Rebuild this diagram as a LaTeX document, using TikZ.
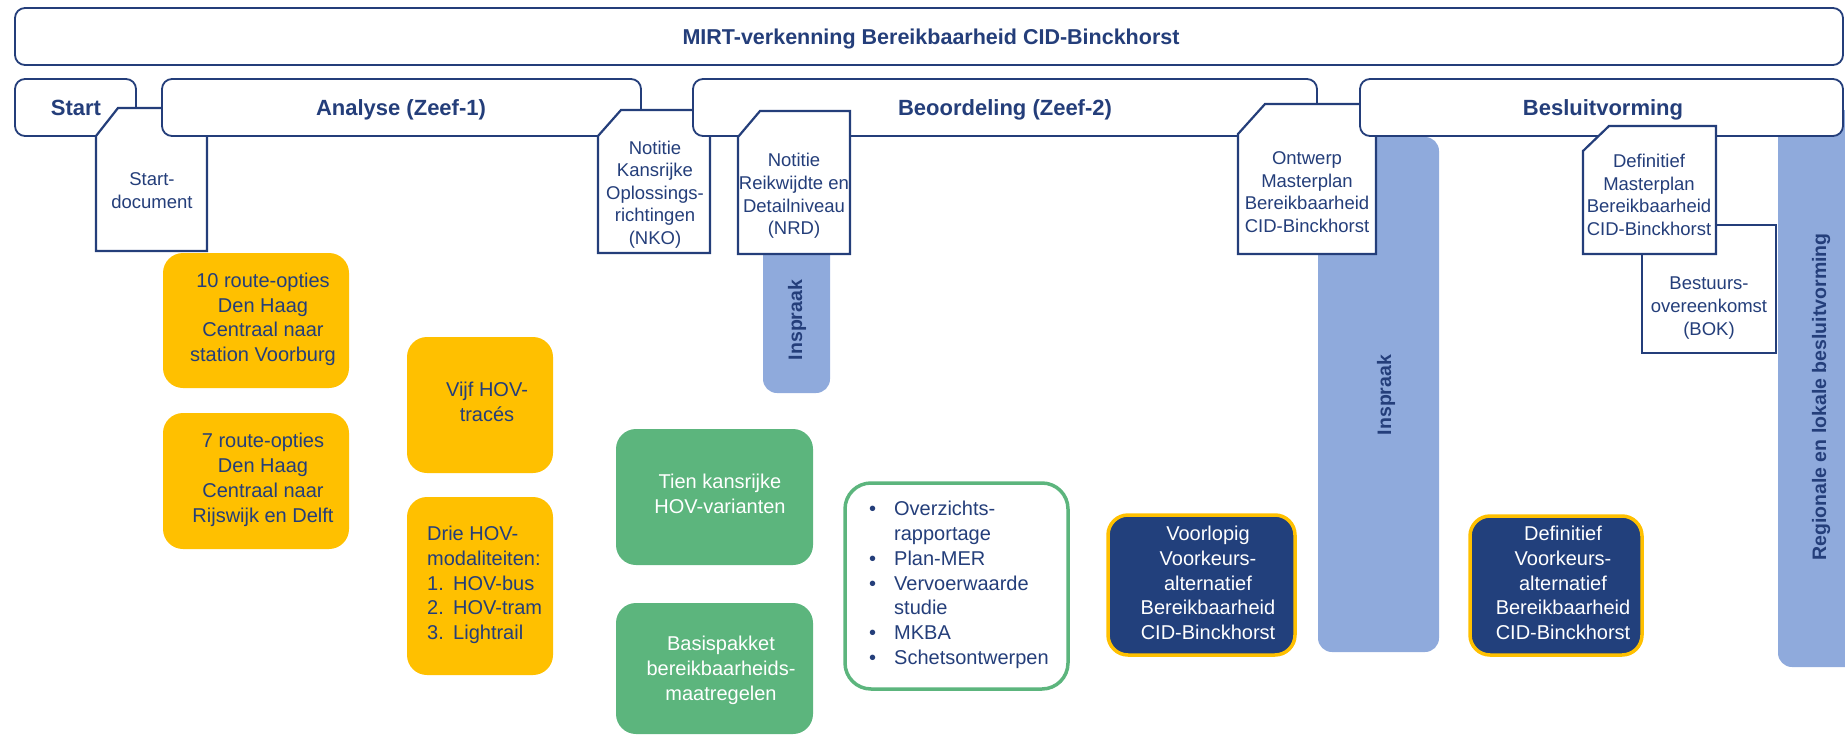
\documentclass[tikz,border=0pt]{standalone}
\usepackage{fontspec}
\setmainfont{Liberation Sans}
\definecolor{dblue}{RGB}{36,62,122}
\definecolor{navy}{RGB}{34,64,124}
\definecolor{ylw}{RGB}{255,192,0}
\definecolor{lblue}{RGB}{143,170,220}
\definecolor{grn}{RGB}{92,181,125}
\begin{document}
\begin{tikzpicture}[x=1pt,y=-1pt,
  bar/.style={draw=dblue, line width=1.8pt, fill=white, rounded corners=10pt},
  doc/.style={draw=dblue, line width=2.2pt, fill=white, line join=miter},
  band/.style={fill=lblue, rounded corners=14pt},
  ybox/.style={fill=ylw, rounded corners=20pt},
  gbox/.style={fill=grn, rounded corners=20pt},
  nbox/.style={draw=ylw, line width=3.5pt, fill=navy, rounded corners=20pt},
  obox/.style={draw=grn, line width=3.5pt, fill=white, rounded corners=26pt},
  head/.style={inner sep=0pt, anchor=base, text=dblue, font=\bfseries\fontsize{22}{26}\selectfont},
  t/.style={inner sep=0pt, text=dblue, align=center, execute at begin node=\strut, execute at end node=\strut},
  doctext/.style={t, font=\fontsize{18.5}{22.6}\selectfont},
  boxtext/.style={t, font=\fontsize{20}{24.7}\selectfont},
  vert/.style={inner sep=0pt, rotate=90, text=dblue, font=\bfseries\fontsize{19.5}{24}\selectfont}
]
\useasboundingbox (0,0) rectangle (1845,736);
\clip (0,0) rectangle (1845,736);

% title bar
\path[bar] (15,8) rectangle (1843,65);
\node[head, font=\bfseries\fontsize{21.5}{26}\selectfont] (title) at (931,44) {MIRT-verkenning Bereikbaarheid CID-Binckhorst};

% phases and documents (order gives the overlaps)
\path[bar] (15,79) rectangle (136,136);
\path[doc] (96,136) -- (118,108) -- (207,108) -- (207,251) -- (96,251) -- cycle;
\path[bar] (162,79) rectangle (641,136);
\path[doc] (598,136) -- (621,110) -- (710,110) -- (710,253) -- (598,253) -- cycle;
\path[bar] (693,79) rectangle (1317,136);
\path[band] (763,230) rectangle (830,393);
\path[doc] (738,137) -- (760,111) -- (850,111) -- (850,254) -- (738,254) -- cycle;
\path[band] (1318,137) rectangle (1439,652);
\path[doc] (1238,134) -- (1265,104) -- (1376,104) -- (1376,254) -- (1238,254) -- cycle;
\path[band] (1778,110) rectangle (1870,667);
\path[bar] (1360,79) rectangle (1843,136);
\path[doc] (1642,225) rectangle (1776,353);
\path[doc] (1583,151) -- (1609,126) -- (1716,126) -- (1716,254) -- (1583,254) -- cycle;

\node[head] (start) at (76,115) {Start};
\node[head] (analyse) at (401,115) {Analyse (Zeef-1)};
\node[head] (beoord) at (1005,115) {Beoordeling (Zeef-2)};
\node[head] (besluit) at (1603,115) {Besluitvorming};

\node[doctext] (startdoc) at (152,194) {Start-\\document};
\node[doctext] (nko) at (655,196) {Notitie\\Kansrijke\\Oplossings-\\richtingen\\(NKO)};
\node[doctext] (nrd) at (794,197.5) {Notitie\\Reikwijdte en\\Detailniveau\\(NRD)};
\node[doctext] (ontwerp) at (1307,195.5) {Ontwerp\\Masterplan\\Bereikbaarheid\\CID-Binckhorst};
\node[doctext] (defmp) at (1649,198) {Definitief\\Masterplan\\Bereikbaarheid\\CID-Binckhorst};
\node[doctext] (bok) at (1709,309.5) {Bestuurs-\\overeenkomst\\(BOK)};

\node[vert] (insp1) at (797,320) {Inspraak};
\node[vert] (insp2) at (1386,395) {Inspraak};
\node[vert] (regio) at (1821,397) {Regionale en lokale besluitvorming};

% yellow boxes
\path[ybox] (163,253) rectangle (349,388);
\path[ybox] (163,413) rectangle (349,549);
\path[ybox] (407,337) rectangle (553,473);
\path[ybox] (407,497) rectangle (553,675);
\node[boxtext] (route10) at (263,321) {10 route-opties\\Den Haag\\Centraal naar\\station Voorburg};
\node[boxtext] (route7) at (263,481.5) {7 route-opties\\Den Haag\\Centraal naar\\Rijswijk en Delft};
\node[boxtext] (vijf) at (487,405.5) {Vijf HOV-\\trac\'es};
\node[boxtext, align=left, anchor=west] (drie) at (427,586.5) {Drie HOV-\\modaliteiten:\\\makebox[26pt][l]{1.}HOV-bus\\\makebox[26pt][l]{2.}HOV-tram\\\makebox[26pt][l]{3.}Lightrail};

% green boxes
\path[gbox] (616,429) rectangle (813,565);
\path[gbox] (616,603) rectangle (813,734);
\node[boxtext, text=white] (tien) at (720,497.5) {Tien kansrijke\\HOV-varianten};
\node[boxtext, text=white] (basis) at (721,672) {Basispakket\\bereikbaarheids-\\maatregelen};
\path[obox] (845,483) rectangle (1068,689);
\node[boxtext, align=left, anchor=west] (lijst) at (869,586.5) {\makebox[25pt][l]{\textbullet}Overzichts-\\\hspace*{25pt}rapportage\\\makebox[25pt][l]{\textbullet}Plan-MER\\\makebox[25pt][l]{\textbullet}Vervoerwaarde\\\hspace*{25pt}studie\\\makebox[25pt][l]{\textbullet}MKBA\\\makebox[25pt][l]{\textbullet}Schetsontwerpen};

% navy boxes
\path[nbox] (1108,515) rectangle (1295,655);
\path[nbox] (1470,516) rectangle (1642,655);
\node[boxtext, text=white] (voorl) at (1208,586.5) {Voorlopig\\Voorkeurs-\\alternatief\\Bereikbaarheid\\CID-Binckhorst};
\node[boxtext, text=white] (defin) at (1563,586.5) {Definitief\\Voorkeurs-\\alternatief\\Bereikbaarheid\\CID-Binckhorst};
\end{tikzpicture}
\end{document}
